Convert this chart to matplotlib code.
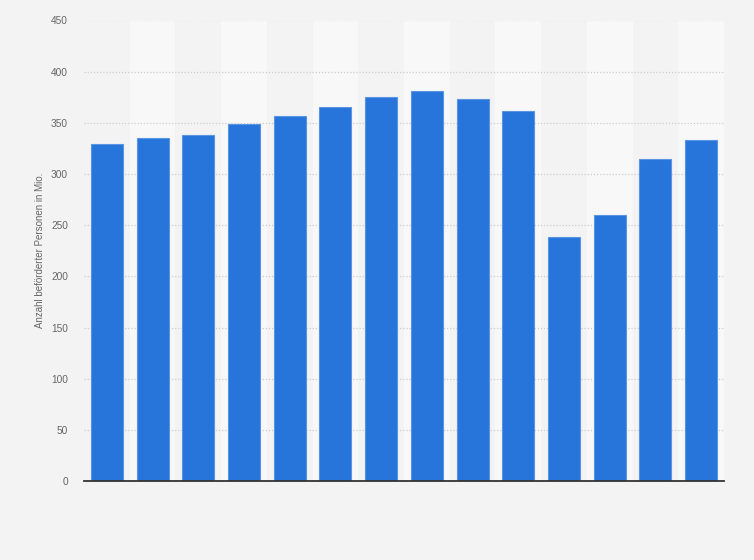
import numpy as np
import matplotlib.pyplot as plt

plt.rcParams['font.family'] = ['Liberation Sans', 'DejaVu Sans']

# Anzahl befoerderter Personen in Mio. (14 Jahre, keine Achsenbeschriftung)
jahre = list(range(1, 15))
personen = [329.0, 335.2, 337.8, 348.6, 356.7, 365.2, 375.0,
            380.8, 373.0, 361.3, 238.7, 260.2, 314.4, 332.9]
y_ticks = [0, 50, 100, 150, 200, 250, 300, 350, 400, 450]

fig = plt.figure(figsize=(7.54, 5.6), dpi=100)
fig.patch.set_facecolor('#f3f3f3')
ax1 = fig.add_axes([84/754, 1 - 481/560, 640/754, 460.5/560])
ax1.set_facecolor('#f3f3f3')

x = np.arange(len(jahre))
# abwechselnde Spalten
for i in x:
    if i % 2 == 1:
        ax1.axvspan(i - 0.5, i + 0.5, color='#f8f8f8', zorder=0, lw=0)

ax1.bar(x, personen, width=0.7, color='#2775db', edgecolor='#5a95e3',
        linewidth=0.8, zorder=3)

ax1.set_xlim(-0.5, len(jahre) - 0.5)
ax1.set_ylim(0, 450)
ax1.set_yticks(y_ticks)
ax1.set_xticks([])
ax1.yaxis.grid(True, color='#cccccc', linestyle=(0, (1, 1.5)), linewidth=0.9, zorder=1)
ax1.tick_params(axis='y', length=0, pad=11.5, labelsize=7.3, labelcolor='#666666')

for s in ['top', 'right', 'left']:
    ax1.spines[s].set_visible(False)
ax1.spines['bottom'].set_color('#333333')
ax1.spines['bottom'].set_linewidth(1.3)
ax1.spines['bottom'].set_zorder(4)

ax1.set_ylabel('Anzahl beförderter Personen in Mio.', fontsize=7, color='#666666', labelpad=4.5)

plt.savefig('out.png', dpi=100, facecolor=fig.get_facecolor())
